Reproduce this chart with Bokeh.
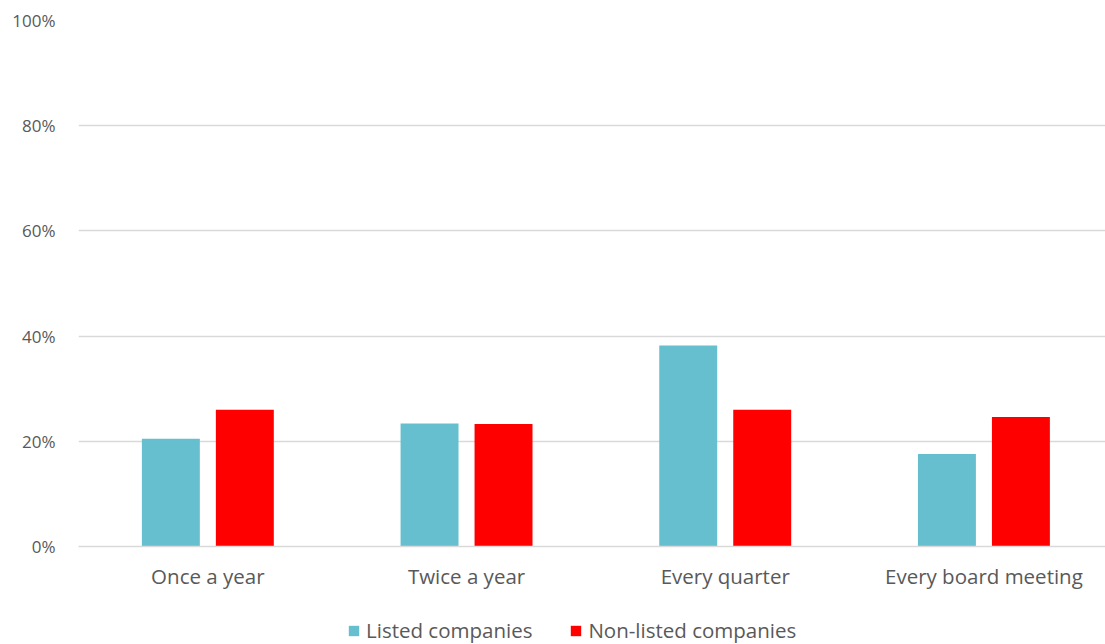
from bokeh.plotting import figure
from bokeh.layouts import column
from bokeh.models import ColumnDataSource, Range1d, Legend, LegendItem, PrintfTickFormatter, FixedTicker
from bokeh.transform import dodge
from bokeh.embed import file_html
from bokeh.resources import INLINE

# Frequency of board evaluations, share of respondents (%)
categories = ["Once a year", "Twice a year", "Every quarter", "Every board meeting"]
listed = [20.5, 23.4, 38.2, 17.6]
non_listed = [26.0, 23.3, 26.0, 24.6]
series_names = ["Listed companies", "Non-listed companies"]
series_colors = ["#65bfcf", "#ff0000"]
y_ticks = [0, 20, 40, 60, 80, 100]

TEXT = "#595959"
GRID = "#d9d9d9"
FONT = "Open Sans"

# one slot per category, centred on i + 0.5; the last slot runs a little past the right edge
slots = [i + 0.5 for i in range(len(categories))]
source = ColumnDataSource(dict(x=slots, cat=categories, listed=listed, non_listed=non_listed))

p = figure(
    x_range=Range1d(0, 3.97),
    y_range=Range1d(0, 100),
    width=1105, height=600,
    output_backend="svg", toolbar_location=None,
    min_border_left=78, min_border_right=0, min_border_top=20, min_border_bottom=54,
    outline_line_color=None,
)

p.vbar(x=dodge("x", -0.143, range=p.x_range), top="listed", width=0.224,
       source=source, fill_color=series_colors[0], line_color=None)
p.vbar(x=dodge("x", 0.143, range=p.x_range), top="non_listed", width=0.224,
       source=source, fill_color=series_colors[1], line_color=None)

# axes and grid
p.xgrid.grid_line_color = None
p.ygrid.grid_line_color = GRID
p.ygrid.grid_line_width = 1.5
p.yaxis.ticker = FixedTicker(ticks=y_ticks)
p.yaxis.formatter = PrintfTickFormatter(format="%d%%")
p.yaxis.axis_line_color = None
p.yaxis.major_tick_line_color = None
p.yaxis.minor_tick_line_color = None
p.yaxis.major_label_standoff = 17
p.yaxis.major_label_text_font = FONT
p.yaxis.major_label_text_font_size = "17px"
p.yaxis.major_label_text_color = TEXT

p.xaxis.ticker = FixedTicker(ticks=slots)
p.xaxis.major_label_overrides = {s: c for s, c in zip(slots, categories)}
p.xaxis.axis_line_color = GRID
p.xaxis.axis_line_width = 1.5
p.xaxis.major_tick_line_color = None
p.xaxis.minor_tick_line_color = None
p.xaxis.major_label_standoff = 9
p.xaxis.major_label_text_font = FONT
p.xaxis.major_label_text_font_size = "20.5px"
p.xaxis.major_label_text_color = TEXT

# legend strip underneath the chart (frame is aligned with the chart's frame)
lg = figure(
    width=1105, height=44,
    x_range=Range1d(0, 1), y_range=Range1d(0, 1),
    output_backend="svg", toolbar_location=None,
    x_axis_type=None, y_axis_type=None,
    min_border_left=0, min_border_right=0, min_border_top=0, min_border_bottom=0,
    outline_line_color=None,
)
lg.grid.visible = False
# swatch renderers sit outside the visible range; they only feed the legend
swatches = [lg.vbar(x=[-1], top=[0], width=0, fill_color=c, line_color=None) for c in series_colors]

legend = Legend(
    items=[LegendItem(label=n, renderers=[r]) for n, r in zip(series_names, swatches)],
    orientation="horizontal",
    location=(269, 0),
    glyph_width=13, glyph_height=13, label_height=20,
    label_standoff=6, spacing=37, padding=0, margin=0,
    border_line_color=None, background_fill_alpha=0,
    label_text_font=FONT, label_text_font_size="20.5px", label_text_color=TEXT,
)
lg.add_layout(legend, "center")

layout = column(p, lg, spacing=0)
open("out.html", "w").write(file_html(layout, INLINE))
